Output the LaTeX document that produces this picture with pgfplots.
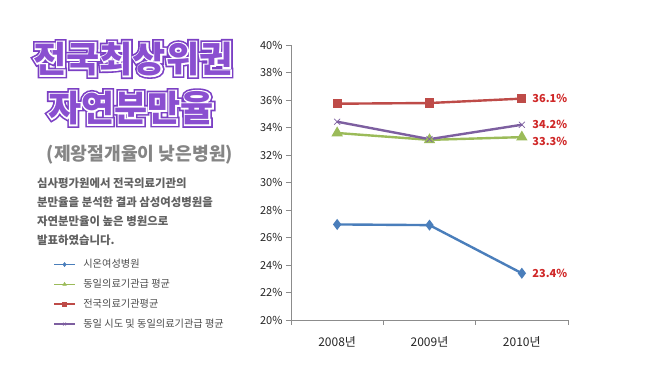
\documentclass[border=0pt]{standalone}
\usepackage{fontspec}
\setmainfont{Noto Sans CJK KR}
\newfontfamily\titleOuter[FakeBold=17]{Noto Sans CJK KR}
\newfontfamily\titleMid[FakeBold=8]{Noto Sans CJK KR}
\newfontfamily\titleCore{Noto Sans CJK KR}
\usepackage{pgfplots}
\pgfplotsset{compat=1.18}
\definecolor{tpurple}{HTML}{7B3FC4}
\definecolor{tcore}{HTML}{8A4FD0}
\definecolor{cblue}{HTML}{4A7EBB}
\definecolor{cgreen}{HTML}{9BBB59}
\definecolor{cred}{HTML}{BE4B48}
\definecolor{cpurple}{HTML}{7D5FA0}
\definecolor{lblred}{HTML}{D02828}
\definecolor{axgray}{HTML}{8C8C8C}
\newcommand{\tsize}{\fontsize{36}{40}\selectfont\bfseries}
\newcommand{\outlined}[3]{%
  \node[text=tpurple,font=\titleOuter\tsize] at (#1,#2) {#3};
  \node[text=white,font=\titleMid\tsize] at (#1,#2) {#3};
  \node[text=tcore,font=\titleCore\tsize] at (#1,#2) {#3};
}
\begin{document}
\begin{tikzpicture}
\path[use as bounding box, fill=white] (0,0) rectangle (646pt,391pt);
\outlined{133pt}{332pt}{전국최상위권}
\outlined{131pt}{283pt}{자연분만율}
\node[text=black!48, font=\fontsize{18.2}{21}\selectfont\bfseries] at (140pt,236pt) {(제왕절개율이 낮은병원)};
\node[anchor=north west, text=black!62, font=\fontsize{11.4}{18.9}\selectfont\bfseries, align=left, inner sep=0pt] at (37pt,213pt)
  {심사평가원에서 전국의료기관의\\분만율을 분석한 결과 삼성여성병원을\\자연분만율이 높은 병원으로\\발표하였습니다.};
\begin{axis}[
  at={(291pt,71pt)}, anchor=south west,
  scale only axis, width=277pt, height=275pt,
  xmin=-0.5, xmax=2.5, ymin=20, ymax=40,
  axis x line*=bottom, axis y line*=left,
  axis line style={axgray, line width=0.8pt},
  ytick={20,22,...,40},
  yticklabel={\pgfmathprintnumber{\tick}\%},
  /pgf/number format/assume math mode=true,
  xtick={-0.5,0.5,1.5,2.5}, xticklabels={},
  extra x ticks={0,1,2},
  extra x tick labels={2008년,2009년,2010년},
  extra x tick style={major tick length=0pt},
  tick style={axgray, line width=0.8pt},
  major tick length=5pt, tick align=outside,
  ticklabel style={font=\fontsize{11}{12}\selectfont, text=black!85},
  xticklabel style={yshift=-13pt, font=\fontsize{12}{13}\selectfont},
  clip=false,
  legend style={draw=none, fill=none, at={(-0.859,0.226)}, anchor=north west,
    font=\fontsize{10.2}{11}\selectfont, text=black!70, row sep=6.9pt, inner sep=0pt,
    nodes={inner sep=1.5pt}},
  legend cell align=left,
  legend image code/.code={\draw[mark repeat=2, mark phase=2, #1, line width=1.6pt, mark size=2pt, mark options={line width=0.6pt}] plot coordinates {(0pt,0pt) (10.5pt,0pt) (21pt,0pt)};},
]
\addplot[cblue, line width=2.4pt, mark=diamond*, mark size=3.6pt, mark options={solid}] coordinates {(0,26.95) (1,26.9) (2,23.4)};
\addlegendentry{\hspace{6pt}시온여성병원}
\addplot[cgreen, line width=2.4pt, mark=triangle*, mark size=4.2pt] coordinates {(0,33.6) (1,33.1) (2,33.3)};
\addlegendentry{\hspace{6pt}동일의료기관급 평균}
\addplot[cred, line width=2.4pt, mark=square*, mark size=3.4pt] coordinates {(0,35.73) (1,35.78) (2,36.1)};
\addlegendentry{\hspace{6pt}전국의료기관평균}
\addplot[cpurple, line width=2.4pt, mark=x, mark size=4.2pt, mark options={line width=0.7pt}] coordinates {(0,34.42) (1,33.15) (2,34.2)};
\addlegendentry{\hspace{6pt}동일 시도 및 동일의료기관급 평균}
\node[anchor=west, text=lblred, font=\fontsize{11}{12}\selectfont\bfseries] at (axis cs:2,36.1) [xshift=7pt] {36.1\%};
\node[anchor=west, text=lblred, font=\fontsize{11}{12}\selectfont\bfseries] at (axis cs:2,34.2) [xshift=7pt] {34.2\%};
\node[anchor=west, text=lblred, font=\fontsize{11}{12}\selectfont\bfseries] at (axis cs:2,33.3) [xshift=7pt, yshift=-4pt] {33.3\%};
\node[anchor=west, text=lblred, font=\fontsize{11}{12}\selectfont\bfseries] at (axis cs:2,23.4) [xshift=7pt] {23.4\%};
\end{axis}
\end{tikzpicture}
\end{document}
